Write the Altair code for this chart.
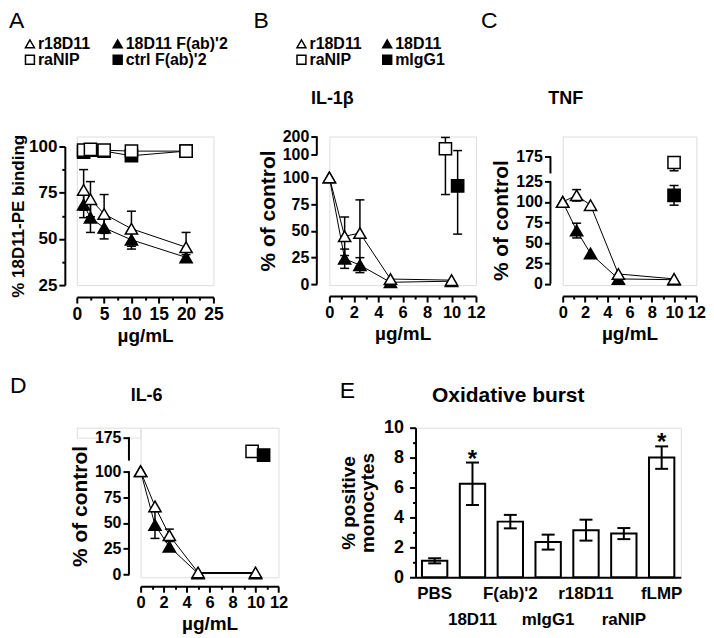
import altair as alt
import pandas as pd

FONT = "Liberation Sans"
K = "black"

# ---------------- data ----------------
# Panel A
A_conc = [1.25, 2.5, 5, 10, 20]
A_names = ["r18D11", "18D11 F(ab)'2", "raNIP", "ctrl F(ab)'2"]
A_r18D11 = [76.5, 71.5, 63.5, 55.5, 45.5]
A_r18D11_sd = [11, 9.5, 10.5, 9.5, 8]
A_18D11F = [68.5, 61.5, 56, 49.5, 40]
A_18D11F_sd = [7, 8, 6, 5, 1.5]
A_raNIP = [98, 98.5, 98, 97.5, 97.5]
A_ctrlF = [97, 98, 97.5, 95, 97.5]

# Panels B, C, D
CONC = [0, 1.25, 2.5, 5, 10]
BCD_names = ["r18D11", "18D11", "raNIP", "mIgG1"]

B_r18D11 = [100, 45, 48, 5, 4]
B_r18D11_sd = [0, 18, 31, 0, 0]
B_18D11 = [100, 24, 18, 2, 3]
B_18D11_sd = [0, 9, 7, 0, 0]
B_ctrl_x = [9.5, 10.5]
B_ctrl_y = [133, 92]
B_ctrl_lo = [84, 47]
B_ctrl_hi = [195, 123]

C_r18D11 = [100, 108, 96, 12, 6]
C_r18D11_sd = [0, 7, 0, 0, 0]
C_18D11 = [100, 65, 37, 6, 5]
C_18D11_sd = [0, 9, 0, 0, 0]
C_ctrl_x = [10, 10]
C_ctrl_y = [159, 108]
C_ctrl_lo = [137, 96]
C_ctrl_hi = [170, 120]

D_r18D11 = [100, 66, 38, 2, 2]
D_r18D11_sd = [0, 0, 6, 0, 0]
D_18D11 = [100, 48, 27, 1, 1]
D_18D11_sd = [0, 13, 0, 0, 0]
D_ctrl_x = [9.7, 10.7]
D_ctrl_y = [145, 137]

# Panel E
E_groups = ["PBS", "18D11", "F(ab)'2", "mIgG1", "r18D11", "raNIP", "fLMP"]
E_mean = [1.1, 6.25, 3.72, 2.35, 3.15, 2.92, 8.0]
E_sd = [0.17, 1.42, 0.45, 0.5, 0.7, 0.37, 0.75]
E_star = ["", "*", "", "", "", "", "*"]

# axis segments of the broken y axes (value ranges)
B_segs = [(0, 100), (100.001, 200)]
C_segs = [(0, 125), (130, 175)]
D_segs = [(0, 100), (125, 175)]


def dose_rows(name, xs, ys, sds):
    return [dict(series=name, x=x, y=y, lo=y - s, hi=y + s) for x, y, s in zip(xs, ys, sds)]


def ctrl_rows(names, xs, ys, los, his):
    return [dict(series=n, x=x, y=y, lo=l, hi=h) for n, x, y, l, h in zip(names, xs, ys, los, his)]


def tick_cond(test, big=6, small=3):
    return {"condition": {"test": test, "value": big}, "value": small}


def text_layer(txt, px, py, size, weight="bold", align="left"):
    return alt.Chart(pd.DataFrame({"t": [txt]})).mark_text(
        align=align, baseline="alphabetic", font=FONT, fontSize=size,
        fontWeight=weight, color=K
    ).encode(text="t:N", x=alt.value(px), y=alt.value(py))


def axis_common(**kw):
    base = dict(grid=False, domainColor=K, domainWidth=2, tickColor=K, tickWidth=2,
                labelFont=FONT, labelFontWeight="bold", labelColor=K, labelOverlap=False,
                labelFlush=False, titleFont=FONT, titleFontWeight="bold", titleColor=K)
    base.update(kw)
    return alt.Axis(**base)


def dose_panel(rows, names, line_names, shapes, fills, xdom, xvals, xmaj, w,
               ydom, yrange, yvals, ylabel_expr, ytick_test, h, yoff, xoff, ytitle,
               ytitle_size, ytitle_pad, legend, segs, texts, lab_size=16):
    df = pd.DataFrame(rows)
    xaxis = axis_common(values=xvals, labelExpr=f"datum.value % {xmaj} == 0 ? datum.label : ''",
                        tickSize=tick_cond(f"datum.value % {xmaj} == 0"), offset=xoff,
                        labelFontSize=lab_size + 0.5, labelPadding=2, title="µg/mL",
                        titleFontSize=19, titlePadding=4)
    yaxis = axis_common(values=yvals, labelExpr=ylabel_expr, tickSize=tick_cond(ytick_test),
                        offset=yoff, labelFontSize=lab_size, labelPadding=2, title=ytitle,
                        titleFontSize=ytitle_size, titlePadding=ytitle_pad,
                        domain=(segs is None))
    xs = alt.Scale(domain=xdom, nice=False, zero=False)
    ys = alt.Scale(domain=ydom, range=yrange, nice=False, zero=False)
    X = alt.X("x:Q", scale=xs, axis=xaxis)

    def Y(f):
        return alt.Y(f"{f}:Q", scale=ys, axis=yaxis)

    base = alt.Chart(df)
    layers = []
    if segs is not None:
        sdf = pd.DataFrame({"y0": [s[0] for s in segs], "y1": [s[1] for s in segs]})
        layers.append(alt.Chart(sdf).mark_rule(color=K, strokeWidth=2).encode(
            y=Y("y0"), y2="y1:Q", x=alt.value(-yoff)))
    layers.append(base.transform_filter(alt.FieldOneOfPredicate(field="series", oneOf=line_names))
                  .mark_line(color=K, strokeWidth=1).encode(x=X, y=Y("y"), detail="series:N"))
    eb = base.transform_filter("datum.hi > datum.lo")
    layers.append(eb.mark_rule(color=K, strokeWidth=1.5).encode(x=X, y=Y("lo"), y2="hi:Q"))
    for f in ("lo", "hi"):
        layers.append(eb.mark_tick(orient="horizontal", size=9, thickness=1.5, color=K, opacity=1)
                      .encode(x=X, y=Y(f)))
    layers.append(base.mark_point(filled=True, strokeWidth=1.5, opacity=1, size=150).encode(
        x=X, y=Y("y"),
        shape=alt.Shape("series:N", scale=alt.Scale(domain=names, range=shapes), legend=legend),
        fill=alt.Fill("series:N", scale=alt.Scale(domain=names, range=fills), legend=legend),
        stroke=alt.Stroke("series:N", scale=alt.Scale(domain=names, range=[K] * len(names)),
                          legend=legend),
    ))
    layers += texts
    return alt.layer(*layers).properties(width=w, height=h)


def make_legend(lx, ly, colpad):
    return alt.Legend(orient="none", legendX=lx, legendY=ly, columns=2, direction="horizontal",
                      title=None, labelFont=FONT, labelFontSize=16, labelFontWeight="bold",
                      labelColor=K, symbolSize=80, symbolStrokeWidth=1.5,
                      columnPadding=colpad, rowPadding=0, labelOffset=0)


TRI2_SQ2 = ["triangle-up", "triangle-up", "square", "square"]
FILLS = ["white", "black", "white", "black"]

H1 = 149
H2 = 150

# ---------- Panel A ----------
rowsA = (dose_rows(A_names[3], A_conc, A_ctrlF, [0] * 5)
         + dose_rows(A_names[2], A_conc, A_raNIP, [0] * 5)
         + dose_rows(A_names[1], A_conc, A_18D11F, A_18D11F_sd)
         + dose_rows(A_names[0], A_conc, A_r18D11, A_r18D11_sd))
panelA = dose_panel(
    rowsA, A_names, A_names, TRI2_SQ2, FILLS,
    [0, 25], [i * 2.5 for i in range(11)], 5, 137,
    [25, 100], [H1, 10], [25, 37.5, 50, 62.5, 75, 87.5, 100],
    "datum.value % 25 == 0 ? datum.label : ''", "datum.value % 25 == 0",
    H1, 12, 12, "% 18D11-PE binding", 17, 1,
    make_legend(-55, -101, 19), None,
    [text_layer("A", -68, -109, 23, weight="normal")], lab_size=17)

# ---------- Panel B ----------
rowsB = (dose_rows("18D11", CONC, B_18D11, B_18D11_sd)
         + dose_rows("r18D11", CONC, B_r18D11, B_r18D11_sd)
         + ctrl_rows(["raNIP", "mIgG1"], B_ctrl_x, B_ctrl_y, B_ctrl_lo, B_ctrl_hi))
panelB = dose_panel(
    rowsB, BCD_names, ["r18D11", "18D11"], TRI2_SQ2, FILLS,
    [0, 12], list(range(13)), 2, 147,
    [0, 100, 100.001, 200], [148.3, 41, 18.3, 0], [0, 25, 50, 75, 100, 100.001, 200],
    "'' + round(datum.value)", "true",
    H1, 12.6, 11, "% of control", 21, 4,
    make_legend(-36, -101, 17), B_segs,
    [text_layer("B", -76, -109, 23, weight="normal"),
     text_layer("IL-1β", 3, -33, 18, align="center")])

# ---------- Panel C ----------
rowsC = (dose_rows("18D11", CONC, C_18D11, C_18D11_sd)
         + dose_rows("r18D11", CONC, C_r18D11, C_r18D11_sd)
         + ctrl_rows(["raNIP", "mIgG1"], C_ctrl_x, C_ctrl_y, C_ctrl_lo, C_ctrl_hi))
panelC = dose_panel(
    rowsC, BCD_names, ["r18D11", "18D11"], TRI2_SQ2, FILLS,
    [0, 12], list(range(13)), 2, 134,
    [0, 125, 130, 175], [147.7, 45, 37, 20], [0, 25, 50, 75, 100, 125, 175],
    "datum.label", "true",
    H1, 12.3, 11, "% of control", 21, 4,
    None, C_segs,
    [text_layer("C", -82, -109, 23, weight="normal"),
     text_layer("TNF", 3, -33, 18, align="center")])

# ---------- Panel D ----------
rowsD = (dose_rows("18D11", CONC, D_18D11, D_18D11_sd)
         + dose_rows("r18D11", CONC, D_r18D11, D_r18D11_sd)
         + ctrl_rows(["raNIP", "mIgG1"], D_ctrl_x, D_ctrl_y, D_ctrl_y, D_ctrl_y))
panelD = dose_panel(
    rowsD, BCD_names, ["r18D11", "18D11"], TRI2_SQ2, FILLS,
    [0, 12], list(range(13)), 2, 138.3,
    [0, 100, 125, 175], [147.3, 43.7, 33, 9.7], [0, 25, 50, 75, 100, 175],
    "datum.label", "true",
    H2, 11.7, 9, "% of control", 21, 4,
    None, D_segs,
    [text_layer("D", -131, -35, 23, weight="normal"),
     text_layer("IL-6", 6, -27, 18, align="center")])

# ---------- Panel E ----------
dfE = pd.DataFrame({
    "group": E_groups,
    "mean": E_mean,
    "lo": [m - s for m, s in zip(E_mean, E_sd)],
    "hi": [m + s for m, s in zip(E_mean, E_sd)],
    "star": E_star,
})
E_xaxis = axis_common(title=None, labelAngle=0, ticks=False, labelFontSize=17,
                      labelPadding=8, labelLineHeight=26,
                      labelExpr="indexof(['18D11','mIgG1','raNIP'], datum.value) >= 0 ? ['', datum.value] : datum.value")
E_yaxis = axis_common(values=list(range(11)), labelExpr="datum.value % 2 == 0 ? datum.label : ''",
                      tickSize=tick_cond("datum.value % 2 == 0"), labelFontSize=18, labelPadding=6,
                      title=["% positive", "monocytes"], titleFontSize=19, titleLineHeight=19,
                      titlePadding=6)
EX = alt.X("group:N", sort=E_groups,
           scale=alt.Scale(domain=E_groups, paddingInner=0.33, paddingOuter=0.17), axis=E_xaxis)
EYs = alt.Scale(domain=[0, 10], nice=False)


def EY(f):
    return alt.Y(f"{f}:Q", scale=EYs, axis=E_yaxis)


baseE = alt.Chart(dfE)
panelE = alt.layer(
    baseE.mark_bar(fill="white", stroke=K, strokeWidth=2, opacity=1).encode(x=EX, y=EY("mean")),
    baseE.mark_rule(color=K, strokeWidth=2).encode(x=EX, y=EY("lo"), y2="hi:Q"),
    baseE.mark_tick(orient="horizontal", size=13, thickness=2, color=K, opacity=1).encode(x=EX, y=EY("lo")),
    baseE.mark_tick(orient="horizontal", size=13, thickness=2, color=K, opacity=1).encode(x=EX, y=EY("hi")),
    baseE.mark_text(baseline="alphabetic", font=FONT, fontSize=24, fontWeight="bold", color=K, dy=4)
    .encode(x=EX, y=EY("hi"), text="star:N"),
    text_layer("E", -76, -30, 23, weight="normal"),
    text_layer("Oxidative burst", 93, -26, 21, align="center"),
).properties(width=266, height=H2)

spacer = alt.Chart(pd.DataFrame({"s": [0]})).mark_point(opacity=0).encode(
    x=alt.X("s:Q", axis=None), y=alt.Y("s:Q", axis=None)).properties(width=64, height=10)


def indep(c):
    return c.resolve_scale(shape="independent", fill="independent", stroke="independent",
                           x="independent", y="independent").resolve_legend(
        shape="independent", fill="independent", stroke="independent")


row1 = indep(alt.hconcat(panelA, indep(alt.hconcat(panelB, panelC, spacing=87, bounds="flush")),
                         spacing=116.3, bounds="flush"))
row2 = indep(alt.hconcat(spacer, indep(alt.hconcat(panelD, panelE, spacing=136.7, bounds="flush")),
                         spacing=0, bounds="flush"))
chart = indep(alt.vconcat(row1, row2, spacing=292, bounds="flush")).properties(
    padding=0, background="white"
).configure_view(stroke=None).configure(font=FONT)

chart.save("out.html", embed_options={"renderer": "svg", "actions": False})
